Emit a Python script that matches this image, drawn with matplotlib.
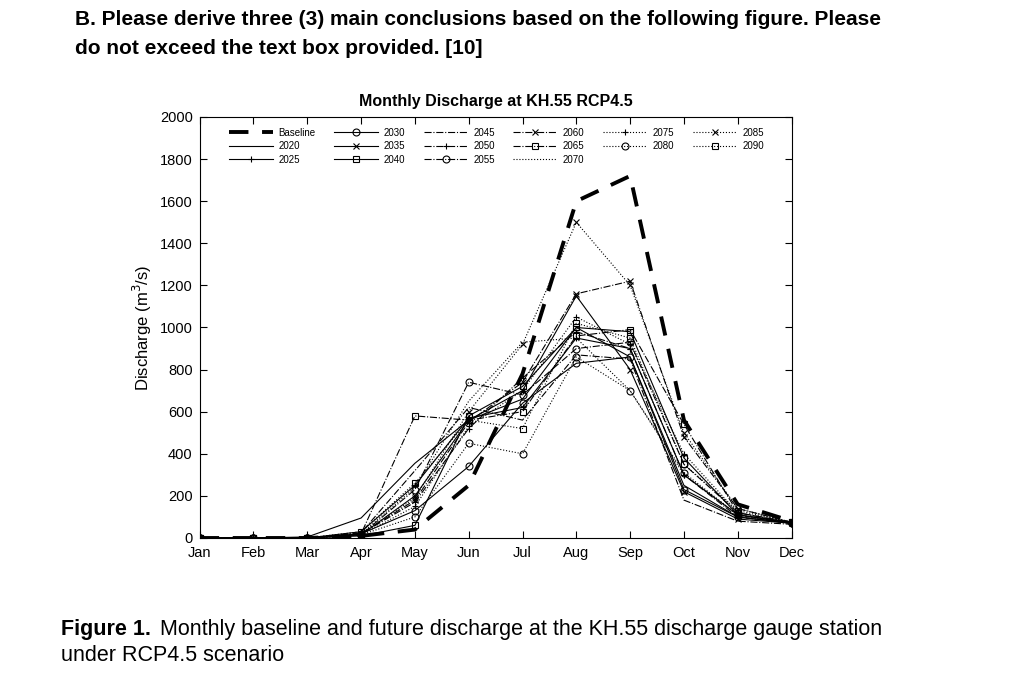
import numpy as np
import matplotlib
matplotlib.use("Agg")
import matplotlib.pyplot as plt

plt.rcParams['font.family'] = ['Liberation Sans', 'DejaVu Sans']

months = ['Jan', 'Feb', 'Mar', 'Apr', 'May', 'Jun', 'Jul', 'Aug', 'Sep', 'Oct', 'Nov', 'Dec']

baseline = [0, 0, 0, 10, 40, 250, 780, 1600, 1720, 560, 160, 80]
q2020 = [0, 0, 5, 95, 355, 560, 660, 1000, 860, 250, 100, 70]
q2025 = [0, 0, 0, 30, 250, 570, 620, 950, 900, 300, 110, 70]
q2030 = [0, 0, 0, 20, 130, 340, 640, 830, 860, 230, 100, 70]
q2035 = [0, 0, 0, 15, 200, 560, 700, 1150, 800, 220, 90, 70]
q2040 = [0, 0, 0, 10, 60, 580, 720, 1000, 980, 380, 110, 75]
q2045 = [0, 0, 0, 25, 320, 620, 560, 870, 850, 180, 80, 65]
q2050 = [0, 0, 0, 20, 170, 520, 760, 980, 900, 300, 100, 70]
q2055 = [0, 0, 0, 15, 230, 740, 680, 900, 930, 350, 120, 70]
q2060 = [0, 0, 0, 20, 180, 550, 740, 1160, 1220, 480, 140, 75]
q2065 = [0, 0, 0, 20, 580, 560, 600, 960, 990, 540, 120, 75]
q2070 = [0, 0, 0, 20, 240, 650, 930, 950, 700, 300, 110, 70]
q2075 = [0, 0, 0, 15, 150, 530, 700, 1050, 920, 400, 120, 75]
q2080 = [0, 0, 0, 15, 100, 450, 400, 860, 700, 310, 110, 70]
q2085 = [0, 0, 0, 20, 190, 600, 920, 1500, 1200, 500, 140, 75]
q2090 = [0, 0, 0, 30, 260, 560, 520, 1020, 950, 350, 130, 75]

series = [
    ('2020', q2020, '-', None),
    ('2025', q2025, '-', '+'),
    ('2030', q2030, '-', 'o'),
    ('2035', q2035, '-', 'x'),
    ('2040', q2040, '-', 's'),
    ('2045', q2045, '-.', None),
    ('2050', q2050, '-.', '+'),
    ('2055', q2055, '-.', 'o'),
    ('2060', q2060, '-.', 'x'),
    ('2065', q2065, '-.', 's'),
    ('2070', q2070, ':', None),
    ('2075', q2075, ':', '+'),
    ('2080', q2080, ':', 'o'),
    ('2085', q2085, ':', 'x'),
    ('2090', q2090, ':', 's'),
]

fig = plt.figure(figsize=(10.24, 6.83), dpi=100)
ax = fig.add_axes([0.195, 0.2123, 0.578, 0.6164])

x = np.arange(len(months))
ax.plot(x, baseline, color='black', linestyle=(0, (5, 3.5)), linewidth=2.8, label='Baseline')
for name, vals, ls, mk in series:
    ax.plot(x, vals, color='black', linestyle=ls, linewidth=0.8, marker=mk,
            markersize=5, markerfacecolor='none', markeredgewidth=0.8, label=name)

ax.set_xlim(0, 11)
ax.set_ylim(0, 2000)
ax.set_xticks(x)
ax.set_xticklabels(months)
ax.set_yticks(np.arange(0, 2001, 200))
ax.tick_params(direction='in', top=True, right=True, labelsize=10.5, length=5)
ax.tick_params(axis='x', pad=6)
ax.tick_params(axis='y', pad=5)
ax.set_ylabel('Discharge (m$^3$/s)', fontsize=12)
ax.set_title('Monthly Discharge at KH.55 RCP4.5', fontsize=11.5, fontweight='bold', pad=8)

ax.legend(loc='upper left', bbox_to_anchor=(0.035, 0.995), ncol=6, frameon=False,
          fontsize=7, handlelength=4.5, columnspacing=1.9, labelspacing=0.35,
          handletextpad=0.6)

fig.text(0.073, 0.985, 'B. Please derive three (3) main conclusions based on the following figure. Please\n'
         'do not exceed the text box provided. [10]', fontsize=15, fontweight='bold',
         va='top', ha='left', linespacing=1.65)

fig.canvas.draw()
r = fig.canvas.get_renderer()
t1 = fig.text(0.06, 0.07, 'Figure 1.', fontsize=15.5, fontweight='bold', va='baseline')
bb = t1.get_window_extent(renderer=r)
fig.text(bb.x1 / fig.bbox.width + 0.008, 0.07,
         'Monthly baseline and future discharge at the KH.55 discharge gauge station',
         fontsize=15.5, va='baseline')
fig.text(0.06, 0.032, 'under RCP4.5 scenario', fontsize=15.5, va='baseline')

fig.savefig('out.png', dpi=100, facecolor='white')
